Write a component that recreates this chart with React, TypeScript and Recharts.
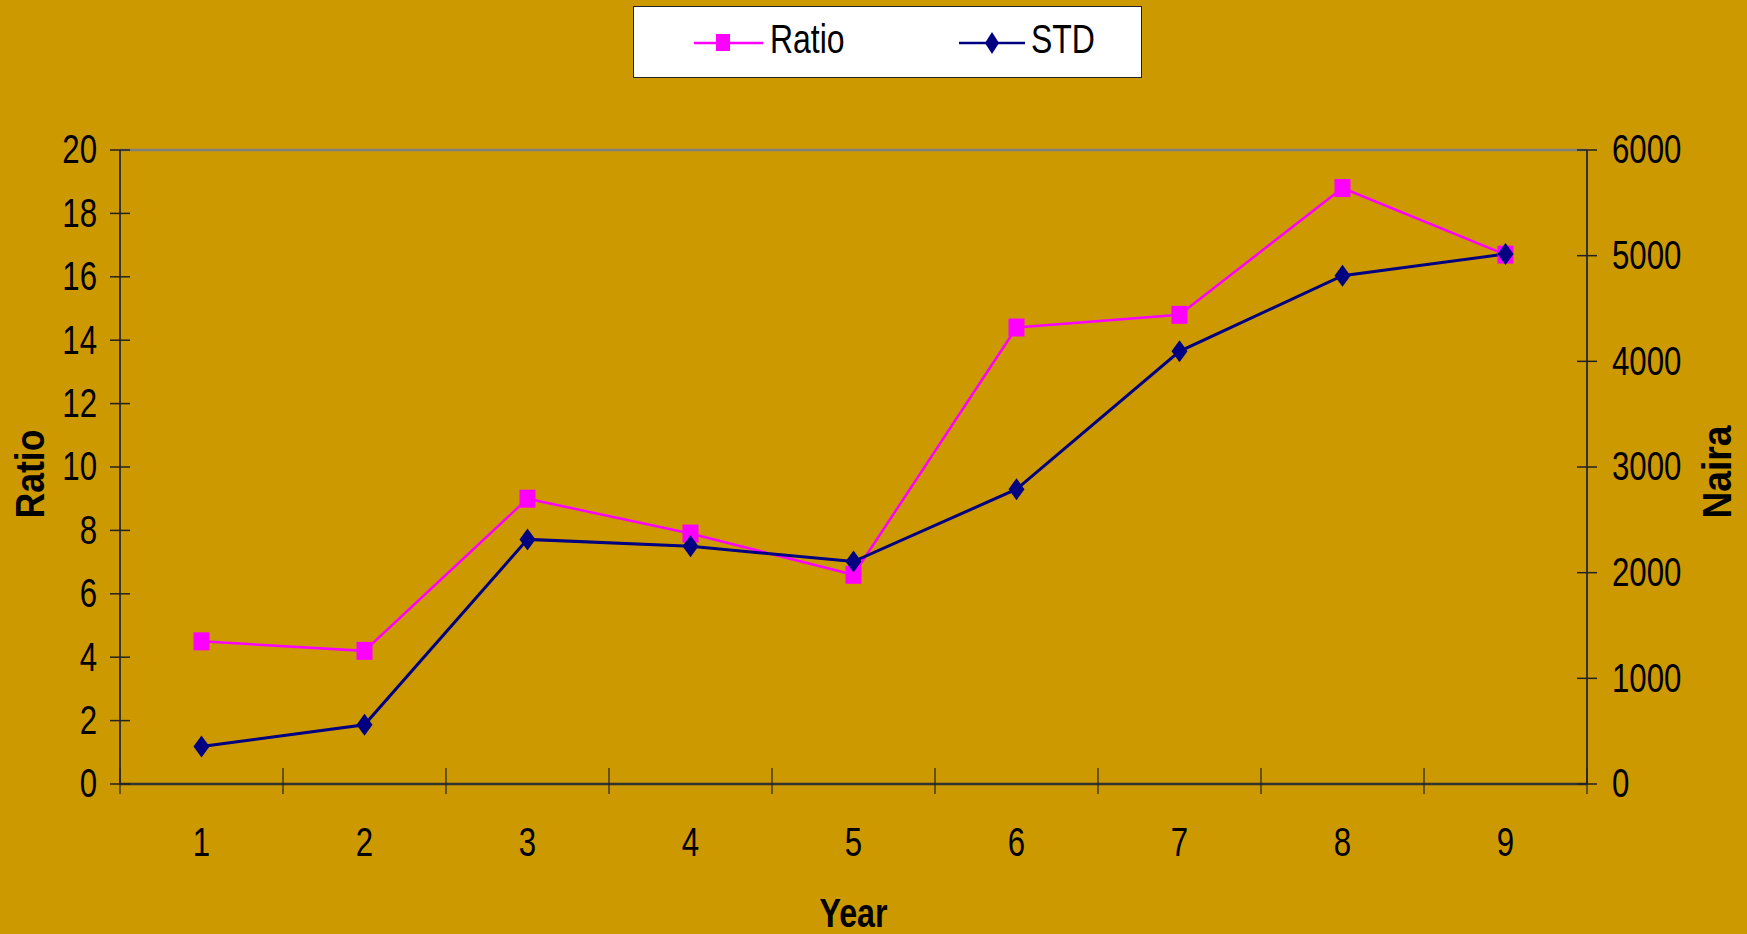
import React from 'react';
import { LineChart, Line, XAxis, YAxis, Legend, ReferenceLine } from 'recharts';

const years = [1, 2, 3, 4, 5, 6, 7, 8, 9];
const ratio = [4.5, 4.2, 9.0, 7.9, 6.6, 14.4, 14.8, 18.8, 16.7];
const std = [355, 560, 2315, 2250, 2105, 2790, 4095, 4810, 5015];
const ratioTicks = [0, 2, 4, 6, 8, 10, 12, 14, 16, 18, 20];
const nairaTicks = [0, 1000, 2000, 3000, 4000, 5000, 6000];

const data = years.map((y, i) => ({ year: y, ratio: ratio[i], std: std[i] }));
const xTicks: number[] = [];
years.forEach((y) => { xTicks.push(y - 0.5); xTicks.push(y); });
xTicks.push(years[years.length - 1] + 0.5);

const W = 1747;
const H = 934;
const BG = '#CC9900';
const FONT = "'Liberation Sans', Arial, sans-serif";
const TS = 10;
const TM = 12;
const AXIS = '#333333';
const FS = 40;
const SX = 0.78;

const NText = ({ x, y, anchor, size, bold, rotate, length, children }: any) => {
  const tr = `translate(${x},${y})` + (rotate ? ` rotate(${rotate})` : '') + (length ? '' : ` scale(${SX},1)`);
  return (
    <text
      transform={tr}
      x={0}
      y={0}
      textAnchor={anchor || 'start'}
      dominantBaseline="central"
      fontSize={size || FS}
      fontWeight={bold ? 'bold' : 'normal'}
      fontFamily={FONT}
      fill="#000"
      textLength={length}
      lengthAdjust={length ? 'spacingAndGlyphs' : undefined}
    >
      {children}
    </text>
  );
};

const LeftTick = (p: any) => {
  const { x, y, payload } = p;
  return (
    <g>
      <line x1={x + TM} x2={x + TM + 2 * TS} y1={y} y2={y} stroke="#222" strokeWidth={1.5} />
      <NText x={x - 1} y={y} anchor="end">{payload.value}</NText>
    </g>
  );
};

const RightTick = (p: any) => {
  const { x, y, payload } = p;
  return (
    <g>
      <line x1={x - 15 - 2 * TS} x2={x - 15} y1={y} y2={y} stroke="#222" strokeWidth={1.5} />
      <NText x={x} y={y} anchor="start">{payload.value}</NText>
    </g>
  );
};

const BottomTick = (p: any) => {
  const { x, y, payload } = p;
  const v = payload.value;
  if (Number.isInteger(v)) {
    return <NText x={x} y={y + 37} anchor="middle">{v}</NText>;
  }
  return <line x1={x} x2={x} y1={y - TM - 2 * 13} y2={y - TM} stroke="#222" strokeWidth={1.2} />;
};

const SquareDot = (p: any) => {
  const { cx, cy, key } = p;
  if (cx == null || cy == null) return <g key={key} />;
  return <rect key={key} x={cx - 8} y={cy - 9} width={16} height={18} fill="#FF00FF" />;
};

const DiamondDot = (p: any) => {
  const { cx, cy, key } = p;
  if (cx == null || cy == null) return <g key={key} />;
  return <path key={key} d={`M${cx},${cy - 11} L${cx + 8},${cy} L${cx},${cy + 11} L${cx - 8},${cy} Z`} fill="#000080" />;
};

const LegendBox = () => (
  <svg width={509} height={72} style={{ display: 'block' }}>
    <rect x={0.5} y={0.5} width={508} height={71} fill="#FFFFFF" stroke="#222" strokeWidth={1} />
    <line x1={61} x2={130} y1={37} y2={37} stroke="#FF00FF" strokeWidth={2.5} />
    <rect x={83} y={28} width={14} height={17} fill="#FF00FF" />
    <NText x={137} y={33} anchor="start" size={41}>Ratio</NText>
    <line x1={326} x2={392} y1={37} y2={37} stroke="#000080" strokeWidth={2.5} />
    <path d="M359,26 L366,37 L359,48 L352,37 Z" fill="#000080" />
    <NText x={398} y={33} anchor="start" size={41}>STD</NText>
  </svg>
);

const LeftTitle = (p: any) => {
  const vb = p.viewBox;
  return <NText x={vb.x + 10} y={vb.y + vb.height / 2 + 7} anchor="middle" size={41} bold rotate={-90} length={89}>Ratio</NText>;
};

const RightTitle = (p: any) => {
  const vb = p.viewBox;
  return <NText x={vb.x + 130} y={vb.y + vb.height / 2 + 5} anchor="middle" size={41} bold rotate={-90} length={93}>Naira</NText>;
};

const BottomTitle = (p: any) => {
  const vb = p.viewBox;
  return <NText x={vb.x + vb.width / 2} y={vb.y + 129} anchor="middle" size={41} bold length={68}>Year</NText>;
};

export default function App() {
  return (
    <div style={{ position: 'absolute', left: 0, top: 0, width: W, height: H, background: BG }}>
      <LineChart width={W} height={H} data={data} margin={{ top: 150, right: 10, bottom: 10, left: 20 }} style={{ background: BG }}>
        <XAxis
          dataKey="year"
          type="number"
          domain={[0.5, 9.5]}
          ticks={xTicks}
          interval={0}
          height={140}
          tickSize={TS}
          tickMargin={TM}
          tickLine={false}
          tick={<BottomTick />}
          axisLine={{ stroke: AXIS, strokeWidth: 2.5 }}
          label={<BottomTitle />}
        />
        <YAxis
          yAxisId="left"
          orientation="left"
          domain={[0, 20]}
          ticks={ratioTicks}
          interval={0}
          width={100}
          tickSize={TS}
          tickMargin={TM}
          tickLine={false}
          tick={<LeftTick />}
          axisLine={{ stroke: AXIS, strokeWidth: 2 }}
          label={<LeftTitle />}
        />
        <YAxis
          yAxisId="right"
          orientation="right"
          domain={[0, 6000]}
          ticks={nairaTicks}
          interval={0}
          width={150}
          tickSize={TS}
          tickMargin={15}
          tickLine={false}
          tick={<RightTick />}
          axisLine={{ stroke: AXIS, strokeWidth: 2 }}
          label={<RightTitle />}
        />
        <ReferenceLine yAxisId="left" y={20} stroke="#808080" strokeWidth={2.5} />
        <Legend
          layout="vertical"
          align="center"
          verticalAlign="middle"
          wrapperStyle={{ position: 'absolute', left: 633, top: 6, width: 509, height: 72 }}
          content={() => <LegendBox />}
        />
        <Line
          yAxisId="left"
          type="linear"
          dataKey="ratio"
          name="Ratio"
          stroke="#FF00FF"
          strokeWidth={2.5}
          dot={SquareDot}
          activeDot={false}
          isAnimationActive={false}
        />
        <Line
          yAxisId="right"
          type="linear"
          dataKey="std"
          name="STD"
          stroke="#000080"
          strokeWidth={3}
          dot={DiamondDot}
          activeDot={false}
          isAnimationActive={false}
        />
      </LineChart>
    </div>
  );
}
